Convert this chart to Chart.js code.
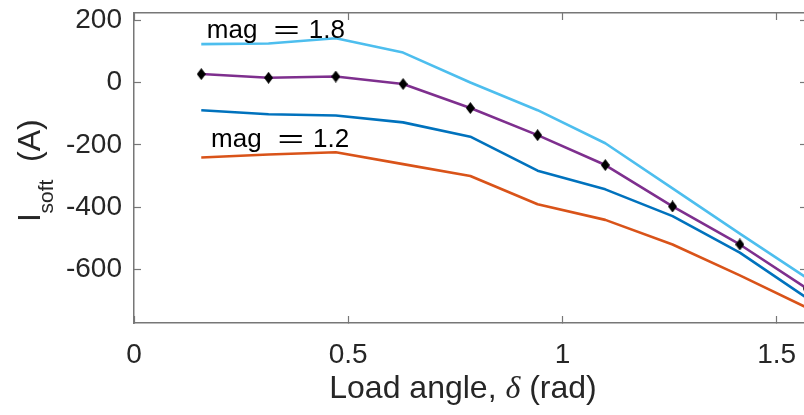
<!DOCTYPE html>
<html>
<head>
<meta charset="utf-8">
<script src="https://cdn.jsdelivr.net/npm/chart.js@4/dist/chart.umd.min.js"></script>
<style>
  html, body { margin: 0; padding: 0; overflow: hidden; background: #fff; }
  canvas { display: block; }
</style>
</head>
<body>
<canvas id="chart" width="812" height="415"></canvas>
<script>
// Load angle (rad) at which the soft current was evaluated
const loadAngle = [0.157, 0.314, 0.471, 0.628, 0.785, 0.942, 1.100, 1.257, 1.414, 1.571];

// Soft current (A) per excitation magnitude
const softMag18 = [123, 125, 142, 96, 0, -89, -195, -340, -485, -628];
const softMarked = [27, 15, 19, -5, -82, -169, -265, -398, -520, -662];
const softMid = [-89, -102, -106, -128, -174, -283, -343, -429, -546, -692];
const softMag12 = [-241, -231, -224, -262, -300, -391, -441, -520, -619, -723];

// Axis ticks
const xTicks = [0, 0.5, 1, 1.5];
const yTicks = [-600, -400, -200, 0, 200];

const FONT = "'Liberation Sans', Arial, Helvetica, sans-serif";
const AXIS_GREY = '#777777';
const TEXT = '#262626';

const toPoints = (ys) => ys.map((v, i) => ({ x: loadAngle[i], y: v }));

// Filled black diamond used as the marker of the highlighted curve
function diamondMarker(w, h) {
  const c = document.createElement('canvas');
  c.width = w; c.height = h;
  const g = c.getContext('2d');
  g.fillStyle = '#000';
  g.beginPath();
  g.moveTo(w / 2, 0);
  g.lineTo(w, h / 2);
  g.lineTo(w / 2, h);
  g.lineTo(0, h / 2);
  g.closePath();
  g.fill();
  return c;
}

const setTicks = (list) => (scale) => { scale.ticks = list.map(v => ({ value: v })); };

// Fix the axis box size and drop the label-overflow padding
const fixSize = (prop, size) => (scale) => {
  scale[prop] = size;
  scale.paddingTop = 0;
  scale.paddingBottom = 0;
  scale.paddingLeft = 0;
  scale.paddingRight = 0;
};

const inwardGrid = {
  drawOnChartArea: false,
  drawTicks: true,
  tickLength: -7,
  tickColor: AXIS_GREY,
  tickWidth: 1.2
};
const frameBorder = { display: true, color: AXIS_GREY, width: 1.5 };

// Text drawn on top of the plot: curve annotations and the axis titles
const textPlugin = {
  id: 'plotTexts',
  afterDraw(chart) {
    const { ctx } = chart;
    const x = chart.scales.x, y = chart.scales.y;
    ctx.save();

    // Curve annotations ("mag = value", with a wide equals sign)
    ctx.fillStyle = '#000';
    ctx.textBaseline = 'alphabetic';
    ctx.textAlign = 'left';
    ctx.font = `26px ${FONT}`;
    const notes = [
      { value: '1.8', at: [0.170, 143] },
      { value: '1.2', at: [0.180, -206] }
    ];
    notes.forEach(n => {
      const px = x.getPixelForValue(n.at[0]);
      const py = y.getPixelForValue(n.at[1]);
      ctx.fillText('mag', px, py);
      ctx.save();
      ctx.translate(px + 66.5, py);
      ctx.scale(1.75, 1);
      ctx.fillText('=', 0, 0);
      ctx.restore();
      ctx.fillText(n.value, px + 102, py);
    });

    // x-axis title with italic delta
    ctx.fillStyle = TEXT;
    const xParts = [
      { t: 'Load angle, ', f: `32px ${FONT}` },
      { t: '\u03B4', f: `italic 32px 'Liberation Serif', 'Times New Roman', serif` },
      { t: ' (rad)', f: `32px ${FONT}` }
    ];
    let total = 0;
    xParts.forEach(p => { ctx.font = p.f; p.w = ctx.measureText(p.t).width; total += p.w; });
    let cx = 463 - total / 2;
    xParts.forEach(p => { ctx.font = p.f; ctx.fillText(p.t, cx, 398); cx += p.w; });

    // y-axis title: I with subscript "soft", then (A)
    ctx.translate(40, 222);
    ctx.rotate(-Math.PI / 2);
    ctx.font = `32px ${FONT}`;
    ctx.fillText('I', 0, 0);
    ctx.font = `21px ${FONT}`;
    ctx.fillText('soft', 8.5, 13);
    ctx.font = `32px ${FONT}`;
    ctx.fillText('(A)', 60, 0);

    ctx.restore();
  }
};

new Chart(document.getElementById('chart'), {
  type: 'line',
  data: {
    datasets: [
      {
        label: 'mag = 1.2',
        data: toPoints(softMag12),
        borderColor: '#D95319',
        borderWidth: 2.6,
        pointRadius: 0
      },
      {
        label: 'mid',
        data: toPoints(softMid),
        borderColor: '#0072BD',
        borderWidth: 2.6,
        pointRadius: 0
      },
      {
        label: 'mag = 1.8',
        data: toPoints(softMag18),
        borderColor: '#4DBEEE',
        borderWidth: 2.6,
        pointRadius: 0
      },
      {
        label: 'marked',
        data: toPoints(softMarked),
        borderColor: '#7E2F8E',
        borderWidth: 2.6,
        pointStyle: diamondMarker(9, 12),
        pointRadius: 5,
        pointBackgroundColor: '#000',
        pointBorderColor: '#000'
      }
    ]
  },
  options: {
    responsive: false,
    animation: false,
    events: [],
    layout: { autoPadding: false, padding: { top: 13, left: 0, right: 0, bottom: 0 } },
    plugins: {
      legend: { display: false },
      tooltip: { enabled: false },
      title: { display: false }
    },
    elements: { line: { tension: 0, borderCapStyle: 'butt', borderJoinStyle: 'round' } },
    scales: {
      x: {
        type: 'linear',
        position: 'bottom',
        min: 0,
        max: 1.5708,
        afterBuildTicks: setTicks(xTicks),
        afterFit: fixSize('height', 92),
        grid: inwardGrid,
        border: frameBorder,
        ticks: {
          color: TEXT,
          font: { family: FONT, size: 28 },
          padding: 22,
          maxRotation: 0,
          autoSkip: false,
          callback: (v) => String(v)
        }
      },
      xTop: {
        type: 'linear',
        position: 'top',
        min: 0,
        max: 1.5708,
        afterBuildTicks: setTicks(xTicks),
        afterFit: fixSize('height', 0),
        grid: inwardGrid,
        border: frameBorder,
        ticks: { display: false }
      },
      y: {
        type: 'linear',
        position: 'left',
        min: -772,
        max: 223,
        afterBuildTicks: setTicks(yTicks),
        afterFit: fixSize('width', 134),
        grid: inwardGrid,
        border: frameBorder,
        ticks: {
          color: TEXT,
          font: { family: FONT, size: 28 },
          padding: 19,
          autoSkip: false,
          callback: (v) => String(v)
        }
      },
      yRight: {
        type: 'linear',
        position: 'right',
        min: -772,
        max: 223,
        afterBuildTicks: setTicks(yTicks),
        afterFit: fixSize('width', 5),
        grid: inwardGrid,
        border: frameBorder,
        ticks: { display: false }
      }
    }
  },
  plugins: [textPlugin]
});
</script>
</body>
</html>
